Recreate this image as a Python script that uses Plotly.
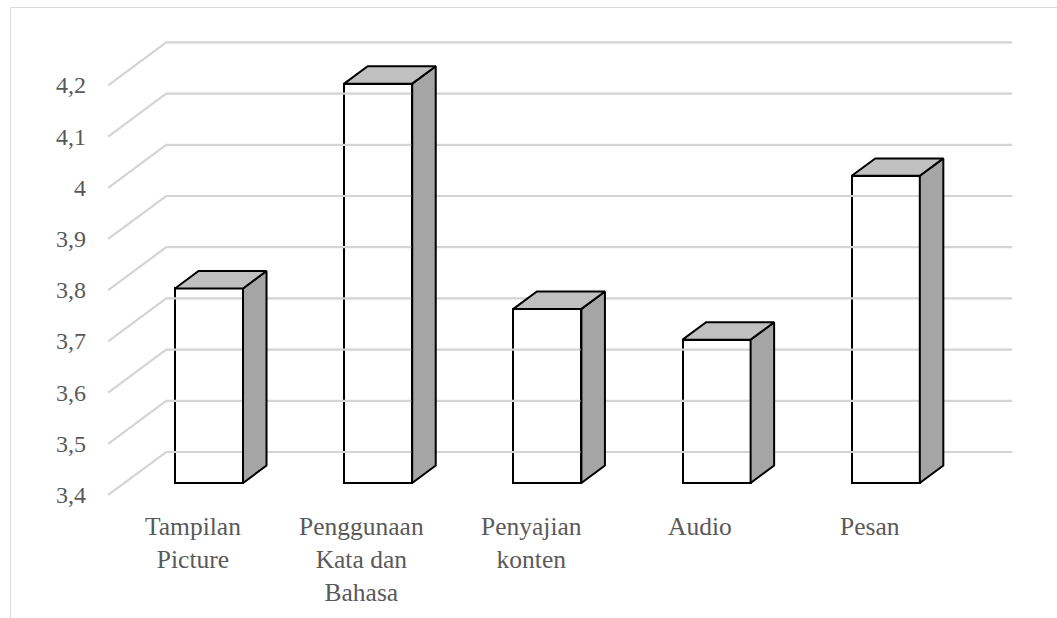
import plotly.graph_objects as go

categories = ["Tampilan<br>Picture", "Penggunaan<br>Kata dan<br>Bahasa", "Penyajian<br>konten", "Audio", "Pesan"]
values = [3.78, 4.18, 3.74, 3.68, 4.00]
tick_values = [3.4, 3.5, 3.6, 3.7, 3.8, 3.9, 4.0, 4.1, 4.2]
tick_labels = ["3,4", "3,5", "3,6", "3,7", "3,8", "3,9", "4", "4,1", "4,2"]
base = 3.4

# projection parameters (data units in the bar-front plane)
W = 1057
H = 618
bar_w = 0.402          # front face width
bdx, bdy = 0.139, 0.034  # bar depth offset
back_dx, back_dy = 0.247, 0.0605   # back wall offset from bar plane
front_dx, front_dy = -0.096, -0.0234  # front floor offset from bar plane
x_lo, x_hi = -0.5, 4.5

grid_color = "#d4d4d4"
text_color = "#595959"
serif = "Liberation Serif"

fig = go.Figure()

# gridlines: side wall diagonals + back wall lines
for v in tick_values:
    fig.add_trace(go.Scatter(
        x=[x_lo + front_dx, x_lo + back_dx, x_hi + back_dx],
        y=[v + front_dy, v + back_dy, v + back_dy],
        mode="lines", line=dict(color=grid_color, width=2.2),
        hoverinfo="skip", showlegend=False))

# side and top faces
for i, v in enumerate(values):
    xr = i + bar_w / 2
    xl = i - bar_w / 2
    fig.add_trace(go.Scatter(
        x=[xr, xr, xr + bdx, xr + bdx, xr],
        y=[base, v, v + bdy, base + bdy, base],
        mode="lines", fill="toself", fillcolor="#a5a5a5",
        line=dict(color="black", width=2), hoverinfo="skip", showlegend=False))
    fig.add_trace(go.Scatter(
        x=[xl, xr, xr + bdx, xl + bdx, xl],
        y=[v, v, v + bdy, v + bdy, v],
        mode="lines", fill="toself", fillcolor="#c0c0c0",
        line=dict(color="black", width=2), hoverinfo="skip", showlegend=False))

# front faces
fig.add_trace(go.Bar(
    x=list(range(len(values))), y=[v - base for v in values], base=base,
    width=bar_w, marker=dict(color="white", line=dict(color="black", width=2)),
    hoverinfo="skip", showlegend=False))

annotations = []
for v, t in zip(tick_values, tick_labels):
    annotations.append(dict(
        x=x_lo + front_dx, y=v + front_dy, xref="x", yref="y",
        text=t, showarrow=False, xanchor="right", yanchor="middle", xshift=-20,
        font=dict(family=serif, size=24, color=text_color)))
for i, c in enumerate(categories):
    annotations.append(dict(
        x=i + front_dx, y=base + front_dy, xref="x", yref="y",
        text=c, showarrow=False, xanchor="center", yanchor="top", yshift=-15,
        align="center",
        font=dict(family=serif, size=25.5, color=text_color)))

# x/y ranges chosen so the bar plane maps onto the page
px_per_cat = 169.2
px_per_val = 512.0
x0_px, base_px = 209.0, 483.0
xr_ = [(0 - x0_px) / px_per_cat, (W - x0_px) / px_per_cat]
yr_ = [base - (H - base_px) / px_per_val, base + base_px / px_per_val]

fig.update_layout(
    width=W, height=H, autosize=False,
    margin=dict(l=0, r=0, t=0, b=0),
    paper_bgcolor="white", plot_bgcolor="white",
    xaxis=dict(range=xr_, visible=False, fixedrange=True),
    yaxis=dict(range=yr_, visible=False, fixedrange=True),
    annotations=annotations,
    shapes=[
        dict(type="line", xref="paper", yref="paper", x0=10.5 / W, x1=1.0,
             y0=1 - 7.5 / H, y1=1 - 7.5 / H, line=dict(color="#d9d9d9", width=1)),
        dict(type="line", xref="paper", yref="paper", x0=10.5 / W, x1=10.5 / W,
             y0=0, y1=1 - 7.5 / H, line=dict(color="#d9d9d9", width=1)),
    ],
    bargap=0,
)

fig.write_html("out.html")
